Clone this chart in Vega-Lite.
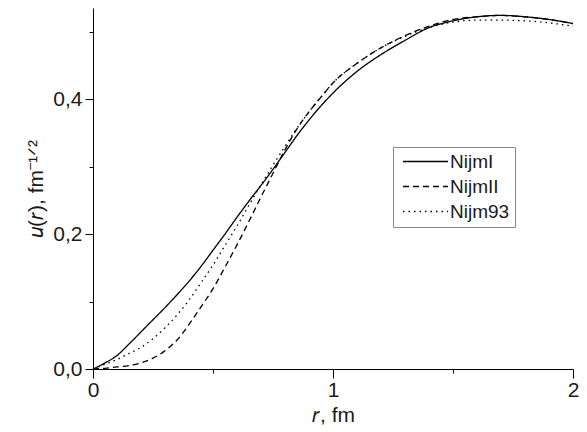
{
  "$schema": "https://vega.github.io/schema/vega-lite/v6.json",
  "autosize": {"type": "none"},
  "padding": {"left": 93, "top": 8, "right": 14, "bottom": 63},
  "width": 480,
  "height": 361,
  "background": "white",
  "config": {
    "view": {"stroke": null},
    "font": "Liberation Sans",
    "axis": {"grid": false, "domainColor": "#000", "tickColor": "#000", "labelColor": "#1a1a1a", "titleColor": "#1a1a1a", "labelFontSize": 21, "titleFontSize": 21, "titleFontWeight": "normal", "labelFont": "Liberation Sans", "titleFont": "Liberation Sans"}
  },
  "data": {
    "values": [
      {"r": 0.0, "u": 0.0, "s": "NijmI"},
      {"r": 0.05, "u": 0.009, "s": "NijmI"},
      {"r": 0.1, "u": 0.02, "s": "NijmI"},
      {"r": 0.15, "u": 0.037, "s": "NijmI"},
      {"r": 0.2, "u": 0.055, "s": "NijmI"},
      {"r": 0.25, "u": 0.073, "s": "NijmI"},
      {"r": 0.3, "u": 0.091, "s": "NijmI"},
      {"r": 0.35, "u": 0.11, "s": "NijmI"},
      {"r": 0.4, "u": 0.13, "s": "NijmI"},
      {"r": 0.45, "u": 0.152, "s": "NijmI"},
      {"r": 0.5, "u": 0.176, "s": "NijmI"},
      {"r": 0.55, "u": 0.2, "s": "NijmI"},
      {"r": 0.6, "u": 0.225, "s": "NijmI"},
      {"r": 0.65, "u": 0.249, "s": "NijmI"},
      {"r": 0.7, "u": 0.272, "s": "NijmI"},
      {"r": 0.75, "u": 0.296, "s": "NijmI"},
      {"r": 0.8, "u": 0.321, "s": "NijmI"},
      {"r": 0.85, "u": 0.346, "s": "NijmI"},
      {"r": 0.9, "u": 0.369, "s": "NijmI"},
      {"r": 0.95, "u": 0.39, "s": "NijmI"},
      {"r": 1.0, "u": 0.409, "s": "NijmI"},
      {"r": 1.1, "u": 0.441, "s": "NijmI"},
      {"r": 1.2, "u": 0.466, "s": "NijmI"},
      {"r": 1.3, "u": 0.487, "s": "NijmI"},
      {"r": 1.4, "u": 0.506, "s": "NijmI"},
      {"r": 1.5, "u": 0.516, "s": "NijmI"},
      {"r": 1.6, "u": 0.522, "s": "NijmI"},
      {"r": 1.7, "u": 0.524, "s": "NijmI"},
      {"r": 1.8, "u": 0.522, "s": "NijmI"},
      {"r": 1.9, "u": 0.518, "s": "NijmI"},
      {"r": 2.0, "u": 0.512, "s": "NijmI"},
      {"r": 0.0, "u": 0.0, "s": "NijmII"},
      {"r": 0.05, "u": 0.001, "s": "NijmII"},
      {"r": 0.1, "u": 0.003, "s": "NijmII"},
      {"r": 0.15, "u": 0.005, "s": "NijmII"},
      {"r": 0.2, "u": 0.009, "s": "NijmII"},
      {"r": 0.25, "u": 0.016, "s": "NijmII"},
      {"r": 0.3, "u": 0.027, "s": "NijmII"},
      {"r": 0.35, "u": 0.043, "s": "NijmII"},
      {"r": 0.4, "u": 0.066, "s": "NijmII"},
      {"r": 0.45, "u": 0.092, "s": "NijmII"},
      {"r": 0.5, "u": 0.119, "s": "NijmII"},
      {"r": 0.55, "u": 0.151, "s": "NijmII"},
      {"r": 0.6, "u": 0.184, "s": "NijmII"},
      {"r": 0.65, "u": 0.219, "s": "NijmII"},
      {"r": 0.7, "u": 0.255, "s": "NijmII"},
      {"r": 0.75, "u": 0.29, "s": "NijmII"},
      {"r": 0.8, "u": 0.325, "s": "NijmII"},
      {"r": 0.85, "u": 0.356, "s": "NijmII"},
      {"r": 0.9, "u": 0.381, "s": "NijmII"},
      {"r": 0.95, "u": 0.403, "s": "NijmII"},
      {"r": 1.0, "u": 0.424, "s": "NijmII"},
      {"r": 1.1, "u": 0.453, "s": "NijmII"},
      {"r": 1.2, "u": 0.476, "s": "NijmII"},
      {"r": 1.3, "u": 0.494, "s": "NijmII"},
      {"r": 1.4, "u": 0.508, "s": "NijmII"},
      {"r": 1.5, "u": 0.518, "s": "NijmII"},
      {"r": 1.6, "u": 0.522, "s": "NijmII"},
      {"r": 1.7, "u": 0.524, "s": "NijmII"},
      {"r": 1.8, "u": 0.522, "s": "NijmII"},
      {"r": 1.9, "u": 0.518, "s": "NijmII"},
      {"r": 2.0, "u": 0.512, "s": "NijmII"},
      {"r": 0.0, "u": 0.0, "s": "Nijm93"},
      {"r": 0.05, "u": 0.007, "s": "Nijm93"},
      {"r": 0.1, "u": 0.014, "s": "Nijm93"},
      {"r": 0.15, "u": 0.023, "s": "Nijm93"},
      {"r": 0.2, "u": 0.032, "s": "Nijm93"},
      {"r": 0.25, "u": 0.045, "s": "Nijm93"},
      {"r": 0.3, "u": 0.061, "s": "Nijm93"},
      {"r": 0.35, "u": 0.08, "s": "Nijm93"},
      {"r": 0.4, "u": 0.102, "s": "Nijm93"},
      {"r": 0.45, "u": 0.128, "s": "Nijm93"},
      {"r": 0.5, "u": 0.154, "s": "Nijm93"},
      {"r": 0.55, "u": 0.183, "s": "Nijm93"},
      {"r": 0.6, "u": 0.212, "s": "Nijm93"},
      {"r": 0.65, "u": 0.243, "s": "Nijm93"},
      {"r": 0.7, "u": 0.273, "s": "Nijm93"},
      {"r": 0.75, "u": 0.302, "s": "Nijm93"},
      {"r": 0.8, "u": 0.33, "s": "Nijm93"},
      {"r": 0.85, "u": 0.357, "s": "Nijm93"},
      {"r": 0.9, "u": 0.381, "s": "Nijm93"},
      {"r": 0.95, "u": 0.403, "s": "Nijm93"},
      {"r": 1.0, "u": 0.424, "s": "Nijm93"},
      {"r": 1.1, "u": 0.453, "s": "Nijm93"},
      {"r": 1.2, "u": 0.476, "s": "Nijm93"},
      {"r": 1.3, "u": 0.493, "s": "Nijm93"},
      {"r": 1.4, "u": 0.506, "s": "Nijm93"},
      {"r": 1.5, "u": 0.514, "s": "Nijm93"},
      {"r": 1.6, "u": 0.517, "s": "Nijm93"},
      {"r": 1.7, "u": 0.517, "s": "Nijm93"},
      {"r": 1.8, "u": 0.516, "s": "Nijm93"},
      {"r": 1.9, "u": 0.513, "s": "Nijm93"},
      {"r": 2.0, "u": 0.508, "s": "Nijm93"}
    ]
  },
  "mark": {"type": "line", "interpolate": "monotone", "color": "#000", "strokeWidth": 1.3, "strokeCap": "butt"},
  "encoding": {
    "x": {
      "field": "r", "type": "quantitative",
      "scale": {"domain": [0, 2], "nice": false},
      "axis": {
        "values": [0, 0.5, 1, 1.5, 2],
        "labelExpr": "datum.value % 1 == 0 ? format(datum.value, 'd') : ''",
        "tickSize": {"condition": {"test": "datum.value % 1 == 0", "value": 9}, "value": 4},
        "labelPadding": 1,
        "labelFlush": false,
        "title": "𝑟, fm",
        "titlePadding": 4
      }
    },
    "y": {
      "field": "u", "type": "quantitative",
      "scale": {"domain": [0, 0.535], "nice": false, "zero": true},
      "axis": {
        "values": [0, 0.1, 0.2, 0.3, 0.4, 0.5],
        "labelExpr": "round(datum.value*10) % 2 == 0 ? replace(format(datum.value, '.1f'), '.', ',') : ''",
        "tickSize": {"condition": {"test": "round(datum.value*10) % 2 == 0", "value": 8}, "value": 4},
        "labelPadding": 3,
        "labelFlush": false,
        "title": "𝑢(𝑟), fm⁻¹ᐟ²",
        "titlePadding": 6
      }
    },
    "strokeDash": {
      "field": "s", "type": "nominal",
      "scale": {"domain": ["NijmI", "NijmII", "Nijm93"], "range": [[1, 0], [6, 4], [1.5, 4]]},
      "legend": {
        "title": null,
        "orient": "none",
        "legendX": 300,
        "legendY": 139,
        "padding": 5,
        "strokeColor": "#888",
        "fillColor": "white",
        "symbolType": "M-1,0H9",
        "symbolSize": 81,
        "symbolStrokeWidth": 1.3,
        "symbolStrokeColor": "#000",
        "labelFontSize": 19,
        "labelColor": "#1a1a1a",
        "labelOffset": 33,
        "rowPadding": 5
      }
    }
  }
}
